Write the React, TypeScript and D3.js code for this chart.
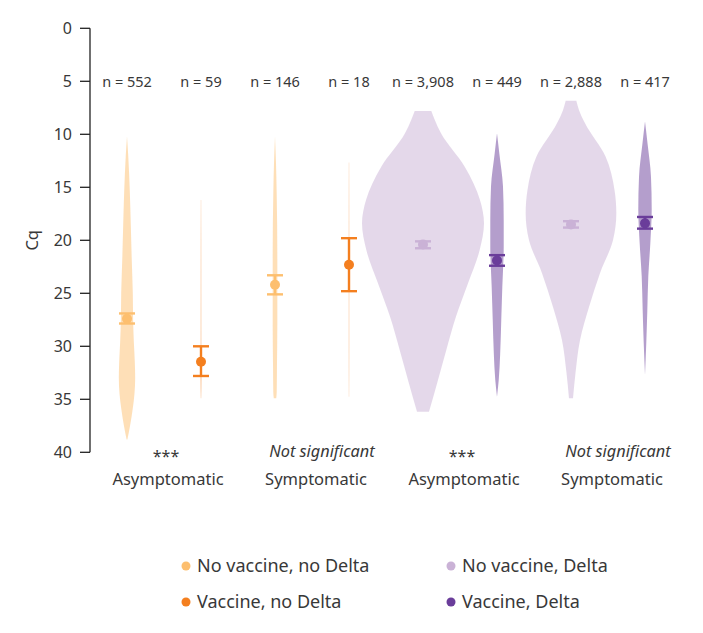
import React from "react";
import * as d3 from "d3";

// ---- data ----
const seriesNames = ["No vaccine, no Delta", "Vaccine, no Delta", "No vaccine, Delta", "Vaccine, Delta"];
const seriesColors = ["#fdbf6f", "#f47f1f", "#cab2d6", "#6a3d9a"];
const violinSeries = [0, 1, 0, 1, 2, 3, 2, 3];
const nLabels = ["n = 552", "n = 59", "n = 146", "n = 18", "n = 3,908", "n = 449", "n = 2,888", "n = 417"];
const groupLabels = ["Asymptomatic", "Symptomatic", "Asymptomatic", "Symptomatic"];
const significance = ["***", "Not significant", "***", "Not significant"];
const yTicks = [0, 5, 10, 15, 20, 25, 30, 35, 40];

const means = [27.4, 31.45, 24.2, 22.3, 20.4, 21.9, 18.5, 18.4];
const ciLow = [26.9, 30.0, 23.3, 19.8, 20.1, 21.4, 18.2, 17.8];
const ciHigh = [27.85, 32.8, 25.1, 24.8, 20.75, 22.4, 18.8, 18.9];

// density profiles: [Cq, relative density]
const dens1: [number, number][] = [[10.2, 0], [12, 0.02], [15.4, 0.046], [18.5, 0.062], [21.7, 0.077], [25, 0.095], [27.5, 0.1], [29.6, 0.112], [31.5, 0.128], [33, 0.134], [34.5, 0.122], [35.85, 0.095], [37.5, 0.05], [38.8, 0.006]];
const dens2: [number, number][] = [[16.2, 0.003], [20, 0.005], [25, 0.006], [30, 0.007], [33, 0.01], [34.9, 0.004]];
const dens3: [number, number][] = [[10.2, 0], [12.5, 0.015], [15.4, 0.027], [21.7, 0.038], [28, 0.038], [32, 0.032], [34.3, 0.028], [34.9, 0.02]];
const dens4: [number, number][] = [[12.65, 0.003], [20, 0.005], [30, 0.005], [34.75, 0.003]];
const dens5: [number, number][] = [[7.8, 0.136], [8.6, 0.19], [9.9, 0.295], [13.06, 0.684], [16.2, 0.934], [18.4, 1.0], [20.9, 0.93], [24.06, 0.738], [27.2, 0.541], [30.35, 0.382], [33.5, 0.23], [36.17, 0.098]];
const dens6: [number, number][] = [[9.9, 0], [11.8, 0.038], [14.9, 0.098], [18.1, 0.11], [20.6, 0.11], [24.4, 0.087], [27.5, 0.07], [30.7, 0.052], [33.2, 0.028], [34.75, 0]];
const dens7: [number, number][] = [[6.83, 0.087], [7.7, 0.13], [8.96, 0.23], [12.1, 0.566], [15.25, 0.713], [17.45, 0.743], [19.97, 0.689], [23.1, 0.475], [26.3, 0.295], [29.4, 0.148], [32.5, 0.074], [34.9, 0.033]];
const dens8: [number, number][] = [[8.8, 0], [10.85, 0.041], [14, 0.098], [17.1, 0.11], [20.3, 0.087], [23.4, 0.054], [26.6, 0.038], [29.7, 0.021], [32.7, 0]];
const densities = [dens1, dens2, dens3, dens4, dens5, dens6, dens7, dens8];

const W = 703;
const H = 633;
const FONT = "'Noto Sans', 'DejaVu Sans', sans-serif";
const TEXT = "#383838";

export default function App() {
  const x = d3.scaleBand<number>().domain(d3.range(8)).range([90, 682]).padding(0);
  const cx = (i: number) => (x(i) as number) + x.bandwidth() / 2;
  const y = d3.scaleLinear().domain([0, 40]).range([28.3, 452.3]);
  const w = d3.scaleLinear().domain([0, 1]).range([0, 61]);

  const area = (i: number) =>
    d3
      .area<[number, number]>()
      .y((d) => y(d[0]))
      .x0((d) => cx(i) - w(d[1]))
      .x1((d) => cx(i) + w(d[1]))
      .curve(d3.curveMonotoneY)(densities[i]) as string;

  const capHalf = 8;

  return (
    <svg width={W} height={H} style={{ display: "block", position: "absolute", left: 0, top: 0 }} fontFamily={FONT}>
      <rect width={W} height={H} fill="#ffffff" />
      {/* violins */}
      {densities.map((_, i) => (
        <path key={"v" + i} d={area(i)} fill={seriesColors[violinSeries[i]]} fillOpacity={violinSeries[i] === 1 ? 0.4 : 0.5} />
      ))}
      {/* means + CI */}
      {means.map((m, i) => {
        const c = seriesColors[violinSeries[i]];
        return (
          <g key={"m" + i} stroke={c} strokeWidth={2.4}>
            <line x1={cx(i)} x2={cx(i)} y1={y(ciLow[i])} y2={y(ciHigh[i])} />
            <line x1={cx(i) - capHalf} x2={cx(i) + capHalf} y1={y(ciLow[i])} y2={y(ciLow[i])} />
            <line x1={cx(i) - capHalf} x2={cx(i) + capHalf} y1={y(ciHigh[i])} y2={y(ciHigh[i])} />
            <circle cx={cx(i)} cy={y(m)} r={5} fill={c} stroke="none" />
          </g>
        );
      })}
      {/* y axis */}
      <line x1={90} x2={90} y1={y(0)} y2={y(40)} stroke="#222" strokeWidth={1.3} />
      {yTicks.map((t) => (
        <g key={"t" + t}>
          <line x1={80} x2={90} y1={y(t)} y2={y(t)} stroke="#222" strokeWidth={1.3} />
          <text x={72} y={y(t)} dy="0.35em" textAnchor="end" fontSize={16} fill={TEXT}>
            {t}
          </text>
        </g>
      ))}
      <text transform={`translate(38, ${y(20)}) rotate(-90)`} textAnchor="middle" fontSize={16.5} fill={TEXT}>
        Cq
      </text>
      {/* n labels */}
      {nLabels.map((n, i) => (
        <text key={"n" + i} x={cx(i)} y={87} textAnchor="middle" fontSize={14.5} fill={TEXT}>
          {n}
        </text>
      ))}
      {/* group labels */}
      {groupLabels.map((g, k) => {
        const mid = (cx(2 * k) + cx(2 * k + 1)) / 2 + 4;
        const sig = significance[k];
        return (
          <g key={"g" + k}>
            <text x={mid} y={485} textAnchor="middle" fontSize={16.5} fill={TEXT}>
              {g}
            </text>
            <text
              x={sig === "***" ? mid - 2 : mid + 6}
              y={sig === "***" ? 462 : 457}
              textAnchor="middle"
              fontSize={sig === "***" ? 16 : 16.3}
              fontStyle={sig === "***" ? "normal" : "italic"}
              fill={TEXT}
            >
              {sig}
            </text>
          </g>
        );
      })}
      {/* legend */}
      {seriesNames.map((s, i) => {
        const col = i < 2 ? 0 : 1;
        const row = i % 2;
        const lx = col === 0 ? 186 : 451;
        const ly = row === 0 ? 566 : 602;
        return (
          <g key={"l" + i}>
            <circle cx={lx} cy={ly} r={4.5} fill={seriesColors[i]} />
            <text x={lx + 11} y={ly} dy="0.35em" fontSize={18} fill={TEXT}>
              {s}
            </text>
          </g>
        );
      })}
    </svg>
  );
}
